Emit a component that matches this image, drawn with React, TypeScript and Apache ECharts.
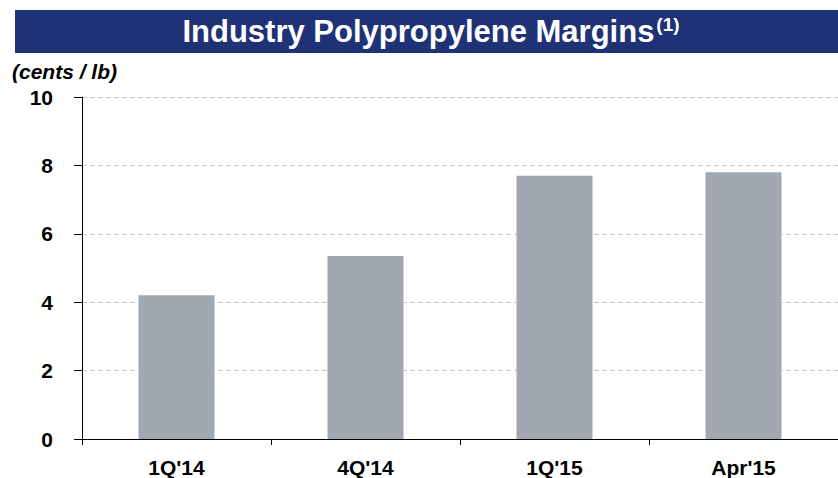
import React, { useEffect, useRef } from "react";
import * as echarts from "echarts";

const categories = ["1Q'14", "4Q'14", "1Q'15", "Apr'15"];
const margins = [4.2, 5.35, 7.7, 7.8];
const yTicks = { min: 0, max: 10, interval: 2 };

const FONT = "'Liberation Sans', Arial, sans-serif";

export default function App() {
  const ref = useRef<HTMLDivElement>(null);
  useEffect(() => {
    if (!ref.current) return;
    const chart = echarts.init(ref.current, null, { renderer: "svg" });
    chart.setOption({
      animation: false,
      graphic: [
        {
          type: "rect",
          shape: { x: 15, y: 10, width: 823, height: 43 },
          style: { fill: "#1E3275" },
          z: 0,
        },
        {
          type: "text",
          x: 431,
          y: 31,
          style: {
            text: "{t|Industry Polypropylene Margins}{s|(1)}",
            align: "center",
            verticalAlign: "middle",
            rich: {
              t: { fontSize: 31, fontWeight: "bold", fill: "#fff", fontFamily: FONT },
              s: { fontSize: 19, fontWeight: "bold", fill: "#fff", fontFamily: FONT, padding: [0, 0, 14, 2] },
            },
          },
          z: 1,
        },
        {
          type: "text",
          x: 12,
          y: 71,
          style: {
            text: "(cents / lb)",
            fontSize: 21,
            fontStyle: "italic",
            fontWeight: "bold",
            fontFamily: FONT,
            fill: "#000",
            verticalAlign: "middle",
          },
        },
      ],
      grid: { left: 82, right: -2, top: 97, bottom: 39 },
      xAxis: {
        type: "category",
        data: categories,
        axisLine: { lineStyle: { color: "#000", width: 1 } },
        axisTick: { show: true, length: 6, lineStyle: { color: "#000" } },
        axisLabel: {
          fontSize: 21,
          fontWeight: "bold",
          color: "#000",
          fontFamily: FONT,
          margin: 18,
        },
      },
      yAxis: {
        type: "value",
        min: yTicks.min,
        max: yTicks.max,
        interval: yTicks.interval,
        axisLine: { show: true, lineStyle: { color: "#000", width: 1 } },
        axisTick: { show: true, length: 8, lineStyle: { color: "#000" } },
        axisLabel: {
          fontSize: 21,
          fontWeight: "bold",
          color: "#000",
          fontFamily: FONT,
          margin: 29,
        },
        splitLine: { show: true, lineStyle: { color: "#C8C8C8", type: [5, 3], width: 1 } },
      },
      series: [
        {
          type: "bar",
          data: margins,
          barWidth: 76,
          itemStyle: { color: "#A2A8B1" },
        },
      ],
    });
    return () => chart.dispose();
  }, []);
  return <div ref={ref} style={{ width: 838, height: 478, position: "absolute", left: 0, top: 0 }} />;
}
